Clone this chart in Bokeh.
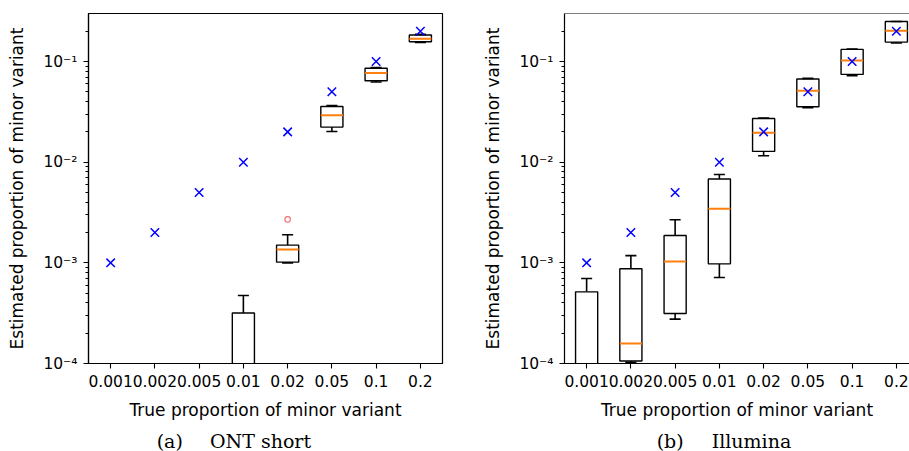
import numpy as np
from bokeh.plotting import figure
from bokeh.models import (Range1d, FixedTicker, LogTicker, CustomJSTickFormatter,
                          ColumnDataSource, Span, Div)
from bokeh.layouts import row, column
from bokeh.embed import file_html
from bokeh.resources import INLINE

# ---------------- data ----------------
categories = ["0.001", "0.002", "0.005", "0.01", "0.02", "0.05", "0.1", "0.2"]
true_props = [0.001, 0.002, 0.005, 0.01, 0.02, 0.05, 0.1, 0.2]

# ONT short (0 = below the plotted range)
ont_q1 = [0, 0, 0, 0, 1.016e-3, 0.0223, 0.0645, 0.157]
ont_med = [0, 0, 0, 0, 1.36e-3, 0.0292, 0.0769, 0.1686]
ont_q3 = [0, 0, 0, 3.18e-4, 1.50e-3, 0.0358, 0.0856, 0.1836]
ont_wlo = [0, 0, 0, 0, 1.00e-3, 0.0202, 0.0625, 0.155]
ont_whi = [0, 0, 0, 4.73e-4, 1.90e-3, 0.0366, 0.087, 0.186]
ont_outlier_cat = ["0.02"]
ont_outlier_val = [2.7e-3]

# Illumina
ill_q1 = [0, 1.06e-4, 3.14e-4, 9.77e-4, 0.0128, 0.0356, 0.0745, 0.156]
ill_med = [0, 1.58e-4, 1.03e-3, 3.44e-3, 0.0196, 0.0513, 0.1025, 0.202]
ill_q3 = [5.15e-4, 8.73e-4, 1.87e-3, 6.8e-3, 0.0272, 0.067, 0.132, 0.25]
ill_wlo = [0, 1.03e-4, 2.76e-4, 7.14e-4, 0.0116, 0.0348, 0.0723, 0.153]
ill_whi = [7.0e-4, 1.18e-3, 2.68e-3, 7.55e-3, 0.0275, 0.068, 0.133, 0.25]
ill_outlier_cat = []
ill_outlier_val = []

x_title = "True proportion of minor variant"
y_title = "Estimated proportion of minor variant"
captions = [("(a)", "ONT short"), ("(b)", "Illumina")]

FONT = "DejaVu Sans"
FLOOR = 1e-7  # drawing stand-in for zero on the log axis

SUP = r"""
const m = {"-": "\u207b", "0": "\u2070", "1": "\u00b9", "2": "\u00b2", "3": "\u00b3",
           "4": "\u2074", "5": "\u2075", "6": "\u2076", "7": "\u2077", "8": "\u2078", "9": "\u2079"};
const e = Math.round(Math.log10(tick));
let s = "";
for (const c of String(e)) { s += m[c]; }
return "10" + s;
"""


def clip0(v):
    a = np.asarray(v, dtype=float)
    return np.where(a > 0, a, FLOOR)


def panel(q1, med, q3, wlo, whi, oc, ov, width, border_left, border_right, x_end, outline):
    pos = np.arange(1, len(categories) + 1, dtype=float)
    p = figure(width=width, height=427, y_axis_type="log",
               x_range=Range1d(0.5, x_end), y_range=Range1d(1e-4, 0.3),
               output_backend="svg", toolbar_location=None,
               min_border_left=border_left, min_border_right=border_right,
               min_border_top=13, min_border_bottom=64)
    p.grid.visible = False
    p.background_fill_color = "white"
    p.border_fill_color = "white"
    if outline:
        p.outline_line_color = "black"
        p.outline_line_width = 1.2
    else:
        p.outline_line_color = None
        p.add_layout(Span(location=0.3, dimension="width", line_color="black", line_width=1.2))

    src = ColumnDataSource(dict(
        x=pos, left=pos - 0.25, right=pos + 0.25,
        cl=pos - 0.125, cr=pos + 0.125,
        q1=clip0(q1), med=clip0(med), q3=clip0(q3), wlo=clip0(wlo), whi=clip0(whi),
        truth=true_props))

    p.segment(x0="x", y0="q3", x1="x", y1="whi", source=src, line_color="black", line_width=1.6)
    p.segment(x0="x", y0="q1", x1="x", y1="wlo", source=src, line_color="black", line_width=1.6)
    p.quad(left="left", right="right", bottom="q1", top="q3", source=src,
           fill_color="white", line_color="black", line_width=1.4)
    p.segment(x0="cl", y0="whi", x1="cr", y1="whi", source=src, line_color="black", line_width=1.6)
    p.segment(x0="cl", y0="wlo", x1="cr", y1="wlo", source=src, line_color="black", line_width=1.6)
    p.segment(x0="left", y0="med", x1="right", y1="med", source=src,
              line_color="#ff7f0e", line_width=2)
    if len(oc):
        ox = [categories.index(c) + 1 for c in oc]
        p.scatter(x=ox, y=ov, marker="circle", size=5.5, fill_color=None,
                  line_color="#f27070", line_width=1.1)
    p.scatter(x="x", y="truth", source=src, marker="x", size=12,
              line_color="#0000ff", line_width=1.5)

    xa = p.xaxis[0]
    xa.ticker = FixedTicker(ticks=list(pos))
    xa.major_label_overrides = {int(i): c for i, c in zip(pos, categories)}
    xa.axis_label = x_title
    ya = p.yaxis[0]
    ya.ticker = LogTicker(num_minor_ticks=10)
    ya.formatter = CustomJSTickFormatter(code=SUP)
    ya.axis_label = y_title
    for ax in (xa, ya):
        ax.axis_line_color = "black"
        ax.axis_line_width = 1.2
        ax.major_tick_line_color = "black"
        ax.major_tick_line_width = 1.1
        ax.minor_tick_line_width = 1.0
        ax.minor_tick_line_color = "black" if ax is ya else None
        ax.major_tick_in = 0
        ax.major_tick_out = 5
        ax.minor_tick_in = 0
        ax.minor_tick_out = 3
        ax.major_label_text_font = FONT
        ax.major_label_text_font_size = "15.5px"
        ax.major_label_text_color = "black"
        ax.axis_label_text_font = FONT
        ax.axis_label_text_font_size = "17px"
        ax.axis_label_text_font_style = "normal"
        ax.axis_label_text_color = "black"
    xa.major_label_standoff = 6
    xa.axis_label_standoff = 10
    ya.major_label_standoff = 6
    ya.axis_label_standoff = 13
    return p


def caption(letter, name, width, letter_x, name_x):
    html = (f'<div style="position:relative;width:{width}px;height:23px;'
            f'font-family:\'DejaVu Serif\';font-size:19px;line-height:1;color:black;">'
            f'<span style="position:absolute;left:{letter_x}px;top:0px;white-space:nowrap;">{letter}</span>'
            f'<span style="position:absolute;left:{name_x}px;top:0px;white-space:nowrap;">{name}</span>'
            f'</div>')
    return Div(text=html, width=width, height=23)


p1 = panel(ont_q1, ont_med, ont_q3, ont_wlo, ont_whi, ont_outlier_cat, ont_outlier_val,
           width=460, border_left=88, border_right=18, x_end=8.5, outline=True)
p2 = panel(ill_q1, ill_med, ill_q3, ill_wlo, ill_whi, ill_outlier_cat, ill_outlier_val,
           width=449, border_left=104, border_right=0, x_end=0.5 + 345 / 44.25, outline=False)

c1 = caption(captions[0][0], captions[0][1], 460, 151.7, 205)
c2 = caption(captions[1][0], captions[1][1], 449, 181.7, 236.7)

layout = column(row(p1, p2), row(c1, c2))
open("out.html", "w").write(file_html(layout, INLINE))
